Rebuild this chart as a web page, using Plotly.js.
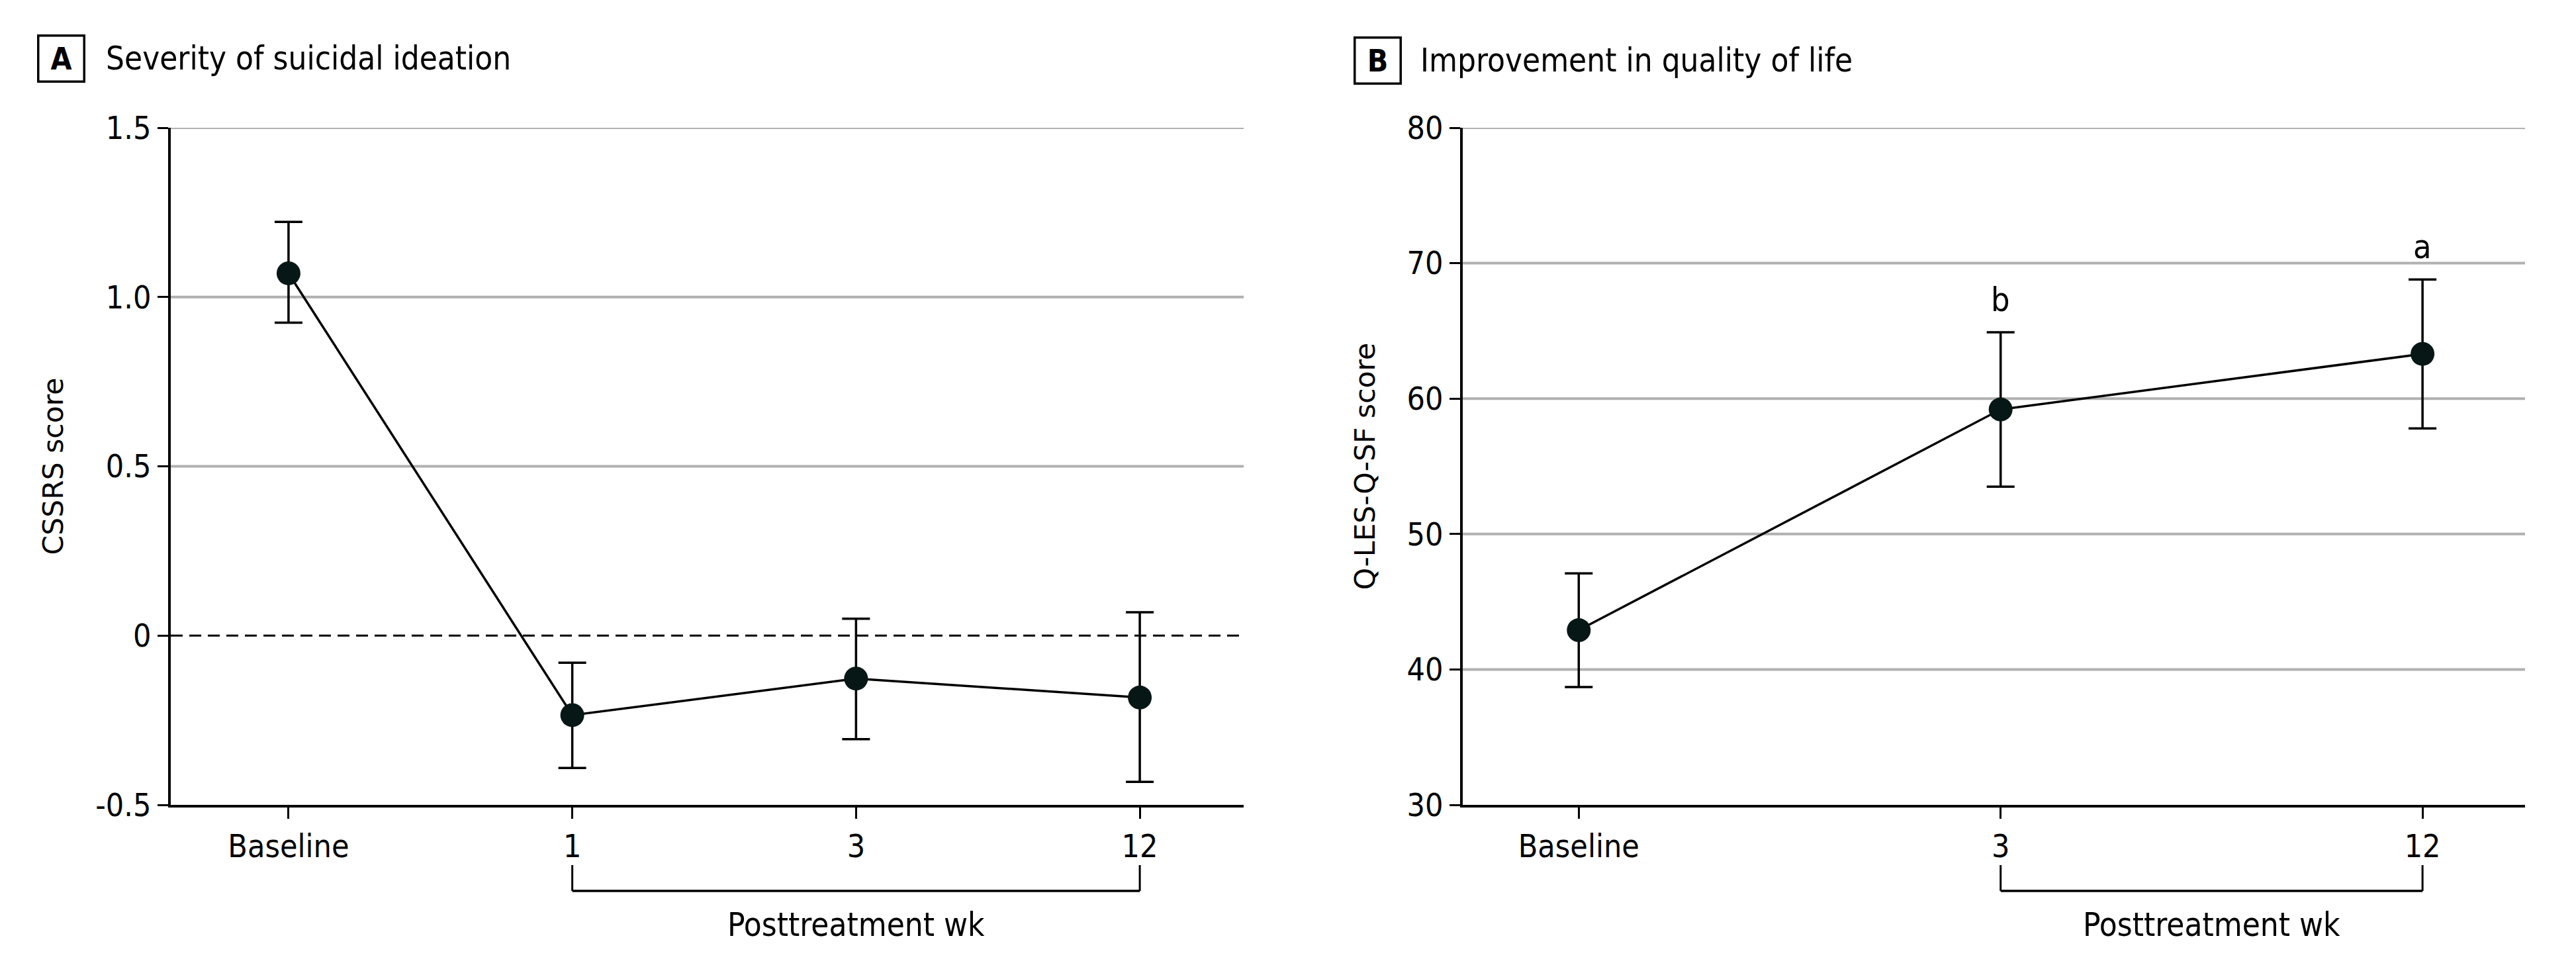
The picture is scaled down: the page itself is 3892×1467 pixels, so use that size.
<!DOCTYPE html>
<html>
<head>
<meta charset="utf-8">
<script src="https://cdn.plot.ly/plotly-3.0.1.min.js"></script>
<style>
  html, body { margin: 0; padding: 0; background: #ffffff; }
  #chart { width: 3892px; height: 1467px; }
</style>
</head>
<body>
<div id="chart"></div>
<script>
// ---------------- DATA ----------------
// Panel A: Severity of suicidal ideation (CSSRS score)
const catsA = ["Baseline", "1", "3", "12"];
const meanA = [1.07, -0.235, -0.127, -0.183];
const ciHighA = [1.222, -0.080, 0.050, 0.069];
const ciLowA = [0.924, -0.391, -0.306, -0.432];
const ticksA = [-0.5, 0, 0.5, 1.0, 1.5];
const tickTextA = ["-0.5", "0", "0.5", "1.0", "1.5"];
const gridA = [0.5, 1.0, 1.5];      // solid gray gridlines
const refLineA = 0;                 // dashed reference line

// Panel B: Improvement in quality of life (Q-LES-Q-SF score)
const catsB = ["Baseline", "3", "12"];
const meanB = [42.9, 59.2, 63.3];
const ciHighB = [47.1, 64.9, 68.8];
const ciLowB = [38.7, 53.5, 57.8];
const sigB = ["", "b", "a"];
const ticksB = [30, 40, 50, 60, 70, 80];
const gridB = [40, 50, 60, 70, 80];

const titleA = "Severity of suicidal ideation";
const titleB = "Improvement in quality of life";
const yTitleA = "CSSRS score";
const yTitleB = "Q-LES-Q-SF score";
const xGroupLabel = "Posttreatment wk";

// ---------------- STYLE ----------------
const W = 3892, H = 1467;
const COND = '"Liberation Sans Narrow", "DejaVu Sans Condensed", "Roboto Condensed", "Arial Narrow", sans-serif';
const WIDE = '"DejaVu Sans", Verdana, sans-serif';
const MARK = "#061716";
const GRID = "#b1b1b1";
const px = v => v / W;
const py = v => 1 - v / H;

function errUp(m, hi) { return hi.map((h, i) => h - m[i]); }
function errDn(m, lo) { return lo.map((l, i) => m[i] - l); }

const traceStyle = {
  type: "scatter",
  mode: "lines+markers",
  line: { color: "#000000", width: 3.5 },
  marker: { size: 36, color: MARK, line: { width: 0 } },
  hoverinfo: "skip",
  showlegend: false
};

const traces = [
  Object.assign({}, traceStyle, {
    x: catsA, y: meanA, xaxis: "x", yaxis: "y",
    error_y: { type: "data", symmetric: false, array: errUp(meanA, ciHighA),
               arrayminus: errDn(meanA, ciLowA), color: "#000000", thickness: 3.5, width: 21 }
  }),
  Object.assign({}, traceStyle, {
    x: catsB, y: meanB, xaxis: "x2", yaxis: "y2",
    error_y: { type: "data", symmetric: false, array: errUp(meanB, ciHighB),
               arrayminus: errDn(meanB, ciLowB), color: "#000000", thickness: 3.5, width: 21 }
  })
];

const yDomain = [py(1216), py(193)];
const xDomA = [px(258), px(1879)];
const xDomB = [px(2210), px(3815)];

const TICKFONT = { family: COND, size: 48, color: "#000000" };
const YTITLEFONT = { family: WIDE, size: 42.5, color: "#000000" };

const commonX = {
  type: "category",
  showline: true, linecolor: "#000000", linewidth: 4,
  ticks: "outside", ticklen: 17, tickwidth: 3, tickcolor: "#000000",
  showgrid: false, zeroline: false,
  tickfont: TICKFONT,
  fixedrange: true
};
const commonY = {
  showline: true, linecolor: "#000000", linewidth: 4,
  ticks: "outside", ticklen: 16, tickwidth: 3, tickcolor: "#000000",
  showgrid: false, zeroline: false,
  tickfont: TICKFONT,
  fixedrange: true
};

const layout = {
  width: W, height: H,
  margin: { l: 0, r: 0, t: 0, b: 0, pad: 0 },
  paper_bgcolor: "#ffffff", plot_bgcolor: "#ffffff",
  showlegend: false,
  xaxis: Object.assign({}, commonX, { domain: xDomA, anchor: "y", range: [-0.415, 3.366] }),
  yaxis: Object.assign({}, commonY, {
    domain: yDomain, anchor: "x", range: [-0.5, 1.5],
    tickvals: ticksA, ticktext: tickTextA,
    title: { text: yTitleA, font: YTITLEFONT, standoff: 36 }
  }),
  xaxis2: Object.assign({}, commonX, { domain: xDomB, anchor: "y2", range: [-0.275, 2.243] }),
  yaxis2: Object.assign({}, commonY, {
    domain: yDomain, anchor: "x2", range: [30, 80],
    tickvals: ticksB,
    title: { text: yTitleB, font: YTITLEFONT, standoff: 36 }
  }),
  shapes: [],
  annotations: []
};

// Horizontal gray gridlines (drawn under the data)
function gridLines(yref, dom, vals) {
  return vals.map(v => ({
    type: "line", xref: "paper", yref: yref, x0: dom[0], x1: dom[1], y0: v, y1: v,
    line: { color: GRID, width: 4 }, layer: "below"
  }));
}
layout.shapes = layout.shapes
  .concat(gridLines("y", xDomA, gridA))
  .concat(gridLines("y2", xDomB, gridB));

// Dashed reference line at 0 (panel A)
layout.shapes.push({
  type: "line", xref: "paper", yref: "y", x0: xDomA[0], x1: xDomA[1], y0: refLineA, y1: refLineA,
  line: { color: "#000000", width: 3, dash: "18px,10px" }, layer: "below"
});

// Brackets spanning the posttreatment categories (category indices)
function bracket(xref, a, b) {
  const top = py(1307), bot = py(1346);
  return [
    { type: "line", xref: xref, yref: "paper", x0: a, x1: a, y0: top, y1: bot, line: { color: "#000000", width: 3 } },
    { type: "line", xref: xref, yref: "paper", x0: b, x1: b, y0: top, y1: bot, line: { color: "#000000", width: 3 } },
    { type: "line", xref: xref, yref: "paper", x0: a, x1: b, y0: bot, y1: bot, line: { color: "#000000", width: 3.5 } }
  ];
}
layout.shapes = layout.shapes
  .concat(bracket("x", 1, catsA.length - 1))
  .concat(bracket("x2", 1, catsB.length - 1));

// Group labels centred under the brackets
layout.annotations.push(
  { xref: "x", yref: "paper", x: (1 + catsA.length - 1) / 2, y: py(1397), text: xGroupLabel, showarrow: false,
    xanchor: "center", yanchor: "middle", font: { family: COND, size: 49, color: "#000000" } },
  { xref: "x2", yref: "paper", x: (1 + catsB.length - 1) / 2, y: py(1397), text: xGroupLabel, showarrow: false,
    xanchor: "center", yanchor: "middle", font: { family: COND, size: 49, color: "#000000" } }
);

// Panel titles with boxed letters
function panelTitle(letter, text, boxCx, textX, cy) {
  return [
    { xref: "paper", yref: "paper", x: px(boxCx), y: py(cy), text: "<b>" + letter + "</b>",
      showarrow: false, xanchor: "center", yanchor: "middle",
      width: 66, height: 66, borderpad: 0, bordercolor: "#000000", borderwidth: 3.5,
      font: { family: COND, size: 46, color: "#000000" } },
    { xref: "paper", yref: "paper", x: px(textX), y: py(cy), text: text,
      showarrow: false, xanchor: "left", yanchor: "middle",
      font: { family: COND, size: 49, color: "#000000" } }
  ];
}
layout.annotations = layout.annotations
  .concat(panelTitle("A", titleA, 92, 158, 89))
  .concat(panelTitle("B", titleB, 2081, 2144, 91));

// Significance markers above error bars (panel B)
sigB.forEach((s, i) => {
  if (!s) return;
  layout.annotations.push({
    xref: "x2", yref: "y2", x: i, y: ciHighB[i], text: s, showarrow: false,
    xanchor: "center", yanchor: "bottom", yshift: 18,
    font: { family: COND, size: 50, color: "#000000" }
  });
});

Plotly.newPlot("chart", traces, layout, { staticPlot: true, displayModeBar: false });
</script>
</body>
</html>
